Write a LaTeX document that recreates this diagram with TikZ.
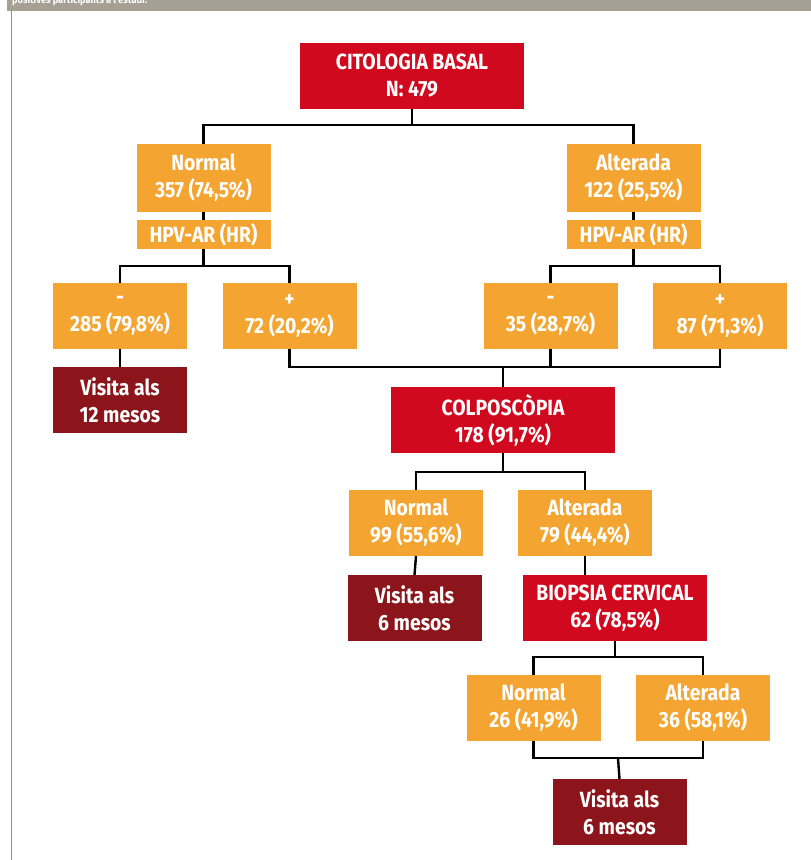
\documentclass[tikz,border=0pt]{standalone}
\usepackage{fontspec}
\setmainfont{Fira Sans}[FakeStretch=0.88]
\usetikzlibrary{calc}
\definecolor{cRed}{HTML}{D0091F}
\definecolor{cOrange}{HTML}{F4A531}
\definecolor{cDark}{HTML}{8B151B}
\definecolor{cBand}{HTML}{A69F93}
\definecolor{cRule}{HTML}{C07878}
\tikzset{
  boxbase/.style={inner sep=0pt, outer sep=0pt, text=white, align=center,
    font=\bfseries\fontsize{22}{27}\selectfont},
  redbox/.style={boxbase, fill=cRed, minimum width=224pt, minimum height=66pt},
  orbox/.style={boxbase, fill=cOrange, minimum width=134pt, minimum height=66pt},
  hpvbox/.style={boxbase, fill=cOrange, minimum width=134pt, minimum height=29pt},
  darkbox/.style={boxbase, fill=cDark, minimum width=134pt, minimum height=66pt},
  conn/.style={draw=black, line width=2.4pt}
}
\begin{document}
\begin{tikzpicture}[x=1pt,y=-1pt]
\useasboundingbox (0,0) rectangle (811,860);
% header band and left rule
\fill[cBand] (7,0) rectangle (811,11);
\begin{scope}
\clip (7,0) rectangle (811,11);
\node[anchor=base west, inner sep=0pt, text=white, font=\bfseries\fontsize{10.5}{13}\selectfont] (cap) at (12,3.5) {positives participants a l'estudi.};
\end{scope}
\draw[cRule, line width=1.3pt] (11.5,11) -- (11.5,860);

% nodes
\node[redbox] (cit) at (412,75.5) {CITOLOGIA BASAL\\N: 479};
\node[orbox, minimum height=68pt] (n1) at (203.5,178) {Normal\\357 (74,5\%)};
\node[orbox, minimum height=68pt] (a1) at (633.5,178) {Alterada\\122 (25,5\%)};
\node[hpvbox] (hpvL) at (203.5,234.5) {HPV-AR (HR)};
\node[hpvbox] (hpvR) at (633.5,234.5) {HPV-AR (HR)};
\node[orbox] (mL) at (120,316) {-\\285 (79,8\%)};
\node[orbox] (pL) at (289.5,316) {+\\72 (20,2\%)};
\node[orbox] (mR) at (550.5,316) {-\\35 (28,7\%)};
\node[orbox] (pR) at (720,316) {+\\87 (71,3\%)};
\node[darkbox] (v12) at (120,400) {Visita als\\12 mesos};
\node[redbox] (colp) at (503,420) {COLPOSCÒPIA\\178 (91,7\%)};
\node[orbox] (n2) at (416,523) {Normal\\99 (55,6\%)};
\node[orbox] (a2) at (585,523) {Alterada\\79 (44,4\%)};
\node[darkbox] (v6a) at (414.5,608) {Visita als\\6 mesos};
\node[redbox, minimum width=184pt] (bio) at (615,608) {BIOPSIA CERVICAL\\62 (78,5\%)};
\node[orbox] (n3) at (533.5,708) {Normal\\26 (41,9\%)};
\node[orbox] (a3) at (703,708) {Alterada\\36 (58,1\%)};
\node[darkbox] (v6b) at (619.5,812) {Visita als\\6 mesos};

% junctions
\coordinate (j1) at (412,125);
\coordinate (j2) at (203.5,266);
\coordinate (j3) at (633.5,266);
\coordinate (j4) at (503,367);
\coordinate (j5) at (503,472);
\coordinate (j6) at (615,657);
\coordinate (j7) at (618,758);

% connectors
\draw[conn] (cit.south) -- (j1);
\draw[conn] (n1.north) |- (j1) -| (a1.north);
\draw[conn] (n1.south) -- (hpvL.north);
\draw[conn] (a1.south) -- (hpvR.north);
\draw[conn] (hpvL.south) -- (j2);
\draw[conn] (mL.north) |- (j2) -| (pL.north);
\draw[conn] (hpvR.south) -- (j3);
\draw[conn] (mR.north) |- (j3) -| (pR.north);
\draw[conn] (mL.south) -- (v12.north);
\draw[conn] (pL.south) |- (j4) -| (pR.south);
\draw[conn] (mR.south) -- (mR.south |- j4);
\draw[conn] (j4) -- (colp.north);
\draw[conn] (colp.south) -- (j5);
\draw[conn] (n2.north) |- (j5) -| (a2.north);
\draw[conn] (n2.south) -- (v6a.north);
\draw[conn] (a2.south) -- (a2.south |- bio.north);
\draw[conn] (bio.south) -- (j6);
\draw[conn] (n3.north) |- (j6) -| (a3.north);
\draw[conn] (n3.south) |- (j7) -| (a3.south);
\draw[conn] (j7) -- (v6b.north);
\end{tikzpicture}
\end{document}
